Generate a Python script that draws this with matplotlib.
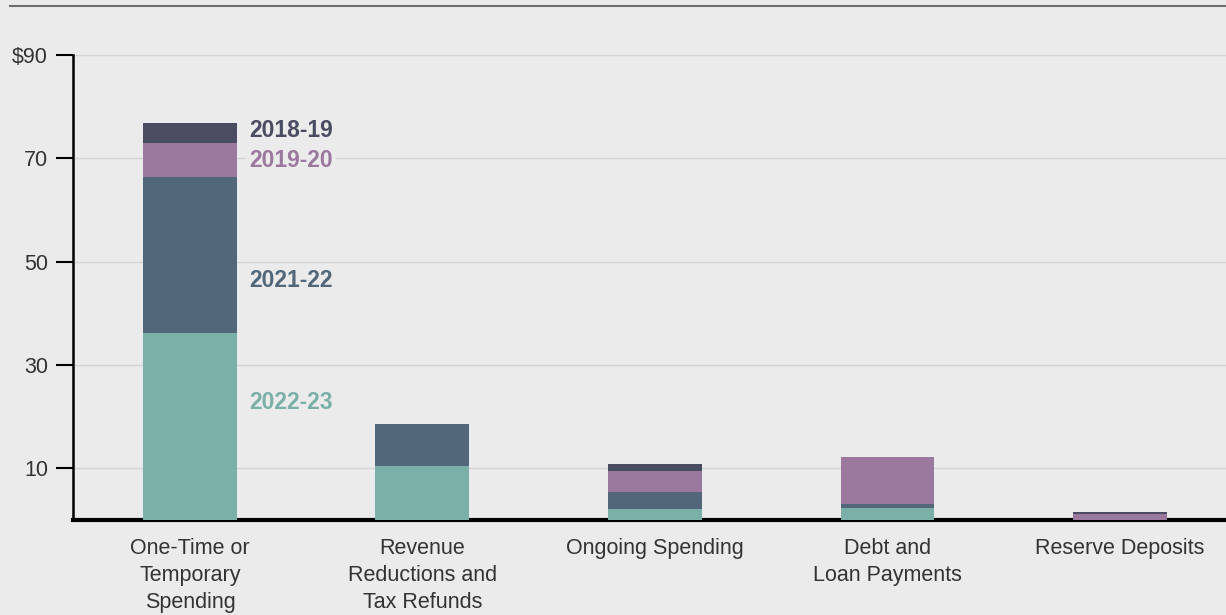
import numpy as np
import matplotlib.pyplot as plt

plt.rcParams['font.family'] = ['Liberation Sans', 'DejaVu Sans']

categories = ['One-Time or\nTemporary\nSpending', 'Revenue\nReductions and\nTax Refunds',
              'Ongoing Spending', 'Debt and\nLoan Payments', 'Reserve Deposits']
years = ['2022-23', '2021-22', '2019-20', '2018-19']
v_2022 = [36.1, 10.4, 2.1, 2.3, 0.0]
v_2021 = [30.3, 8.1, 3.3, 0.8, 0.0]
v_2019 = [6.6, 0.0, 4.1, 9.1, 1.2]
v_2018 = [3.9, 0.0, 1.3, 0.0, 0.4]
colors = ['#7bb0a8', '#52687a', '#9b789e', '#4a4c62']
label_y = [22.8, 46.4, 69.6, 75.4]
yticks = [10, 30, 50, 70, 90]
ytick_labels = ['10', '30', '50', '70', '$90']

bg = '#ebebeb'
fig = plt.figure(figsize=(12.26, 6.15), dpi=100, facecolor=bg)
ax = fig.add_axes([73 / 1226, 95 / 615, 1 - 73 / 1226, 465 / 615], facecolor=bg)

x = np.arange(len(categories))
bottom = np.zeros(len(categories))
for vals, c in zip([v_2022, v_2021, v_2019, v_2018], colors):
    ax.bar(x, vals, 0.404, bottom=bottom, color=c, zorder=3)
    bottom += np.array(vals)

# series labels next to first bar
for name, y, c in zip(years, label_y, colors):
    ax.text(0.255, y, name, color=c, fontsize=16.5, fontweight='bold', va='center', ha='left',
            zorder=4, bbox=dict(facecolor=bg, edgecolor='none', pad=2))

ax.set_xlim(-0.503, 4.456)
ax.set_ylim(0, 90)
ax.set_yticks(yticks)
ax.set_yticklabels(ytick_labels)
ax.set_xticks(x)
ax.set_xticklabels(categories, linespacing=1.38)
ax.tick_params(axis='y', length=12, width=1.5, labelsize=15.5, labelcolor='#333333', pad=6)
ax.tick_params(axis='x', length=0, labelsize=15.5, labelcolor='#333333', pad=13)
ax.grid(axis='y', color='#d4d4d4', linewidth=1, zorder=0)

for s in ['top', 'right']:
    ax.spines[s].set_visible(False)
ax.spines['left'].set_linewidth(1.8)
ax.spines['bottom'].set_linewidth(3)

# rule at the top of the figure
fig.add_artist(plt.Line2D([10 / 1226, 1], [1 - 6 / 615, 1 - 6 / 615], color='#6e6e6e', linewidth=1.5))

fig.savefig('out.png', dpi=100, facecolor=bg)
